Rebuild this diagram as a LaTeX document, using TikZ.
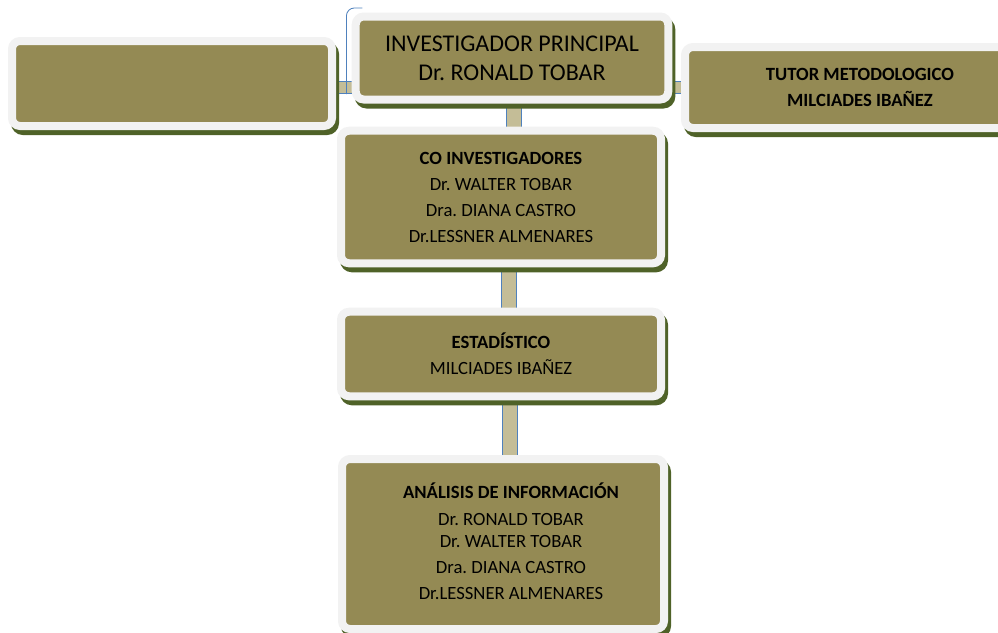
\documentclass[tikz,border=0pt]{standalone}
\usepackage{fontspec}
\setmainfont{Carlito}
\frenchspacing
\usetikzlibrary{positioning,backgrounds}
\definecolor{boxfill}{HTML}{948A54}
\definecolor{rim}{HTML}{F2F2F2}
\definecolor{shade}{HTML}{4F6228}
\definecolor{tanfill}{HTML}{C4BD97}
\definecolor{edgeblue}{HTML}{4F81BD}
\tikzstyle{box}=[draw=rim,fill=boxfill,line width=6pt,rounded corners=6pt,inner sep=0,align=center,
  font=\fontsize{14}{19.5}\selectfont,
  preaction={draw=shade,fill=shade,line width=6pt,transform canvas={xshift=2.25pt,yshift=-3.75pt}}]
\tikzstyle{conn}=[draw=edgeblue,line width=0.6pt,double=tanfill,double distance=8.5pt]

\begin{document}
\begin{tikzpicture}[x=0.75pt,y=-0.75pt]
	\useasboundingbox (0,0) rectangle (998,632);

	\node[box,minimum width=240pt,minimum height=63.75pt] (blank) at (172,83.5) {};
	\node[box,minimum width=234.4pt,minimum height=62.25pt,font=\fontsize{18}{22}\selectfont] (jefe) at (512,58)
		{INVESTIGADOR PRINCIPAL\\Dr. RONALD TOBAR};
	\node[box,minimum width=262.5pt,minimum height=60.75pt,font=\fontsize{14}{20}\selectfont\bfseries] (tutor) at (860,87.5)
		{TUTOR METODOLOGICO\\MILCIADES IBAÑEZ};
	\node[box,minimum width=240pt,minimum height=99.4pt] (coinv) at (501,197)
		{\textbf{CO INVESTIGADORES}\\Dr. WALTER TOBAR\\Dra. DIANA CASTRO\\Dr.LESSNER ALMENARES};
	\node[box,minimum width=240pt,minimum height=63.4pt] (estad) at (501,354)
		{\textbf{ESTADÍSTICO}\\MILCIADES IBAÑEZ};
	\node[box,minimum width=241.5pt,minimum height=127.5pt] (analisis) at (503,544)
		{\hspace*{12pt}\begin{tabular}{@{}c@{}}\textbf{ANÁLISIS DE INFORMACIÓN}\\[0.75pt]Dr. RONALD TOBAR\\[-3pt]Dr. WALTER TOBAR\\Dra. DIANA CASTRO\\Dr.LESSNER ALMENARES\end{tabular}};

	% conectores
	\begin{scope}[on background layer]
		\draw[conn] ([yshift=-3pt]blank.east) -- ([yshift=-3pt]blank.east -| jefe.west);
		\draw[conn] (tutor.west) -- (tutor.west -| jefe.east);
		\draw[conn,double distance=10.5pt] ([xshift=1.5pt]jefe.south) -- ([xshift=1.5pt]jefe.south |- coinv.north);
		\draw[conn,double distance=10.5pt] ([xshift=6pt]coinv.south) -- ([xshift=6pt]coinv.south |- estad.north);
		\draw[conn,double distance=10.5pt] ([xshift=6.75pt]estad.south) -- ([xshift=6.75pt]estad.south |- analisis.north);
		\draw[edgeblue,line width=0.6pt,rounded corners=6pt] ([xshift=-4pt,yshift=7pt]jefe.south west) |- ([xshift=8pt,yshift=3.4pt]jefe.north west);
	\end{scope}

\end{tikzpicture}
\end{document}
